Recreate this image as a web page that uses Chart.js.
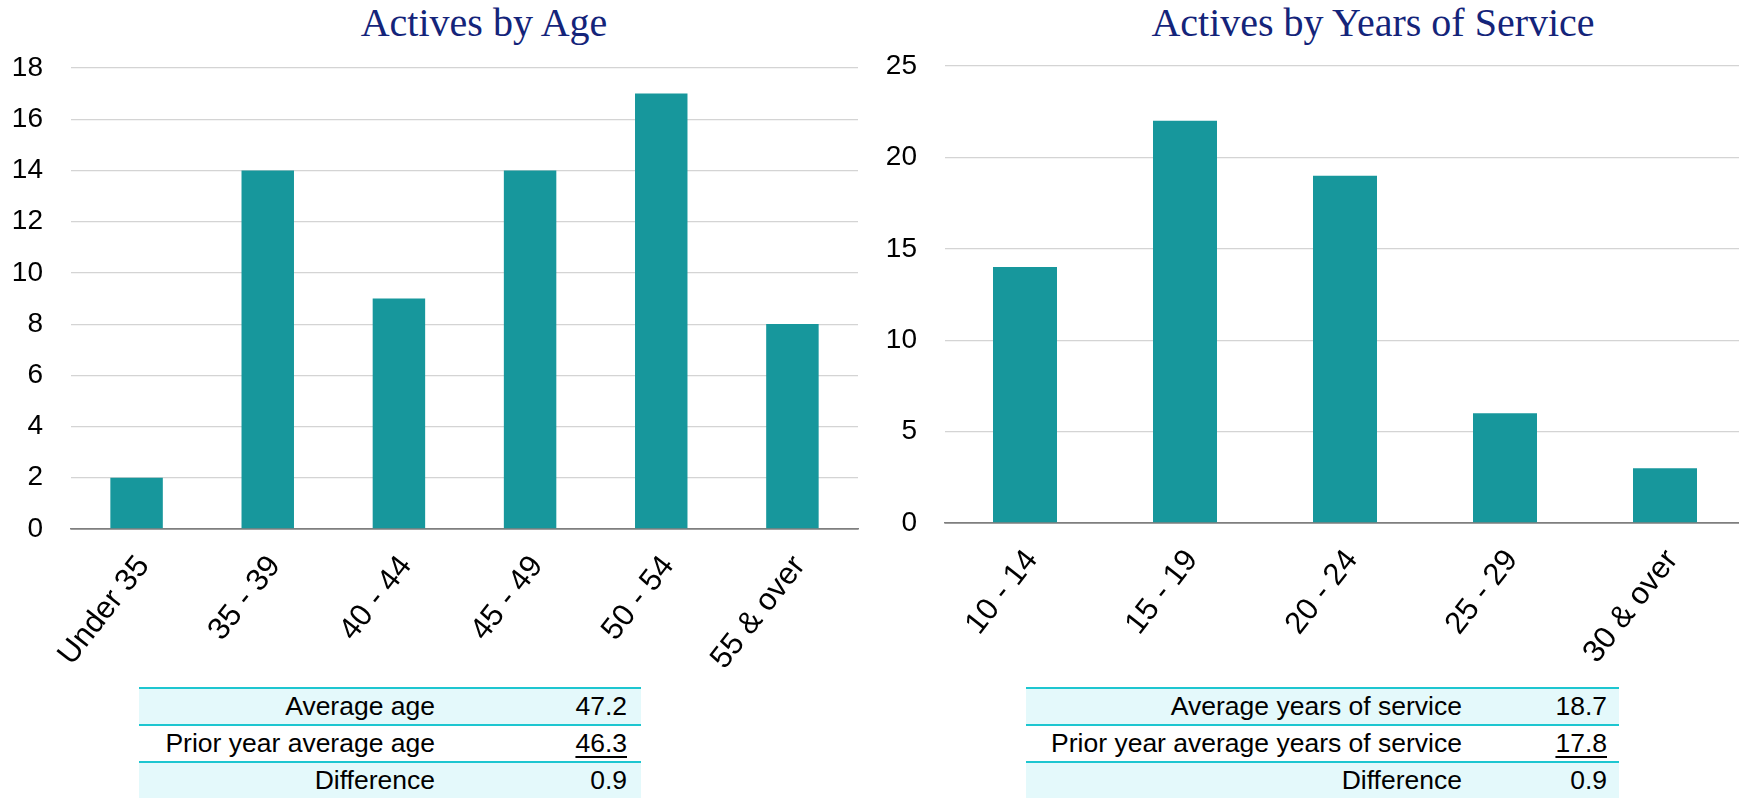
<!DOCTYPE html>
<html>
<head>
<meta charset="utf-8">
<script src="https://cdn.jsdelivr.net/npm/chart.js@4.4.1/dist/chart.umd.min.js"></script>
<style>
  html, body { margin:0; padding:0; width:1739px; height:798px; overflow:hidden; background:#ffffff; }
  .title { position:absolute; top:3px; font-family:"Liberation Serif", "Times New Roman", serif; font-size:40px; line-height:40px; color:#14247a; white-space:nowrap; transform:translateX(-50%); }
  .wrap { position:absolute; top:0; }
  table.summary { position:absolute; border-collapse:collapse; table-layout:fixed; font-family:"Liberation Sans", Arial, sans-serif; font-size:26.5px; color:#000; }
  table.summary td { height:35px; padding:0; vertical-align:middle; text-align:right; white-space:nowrap; border-top:2px solid #1dc6d0; }
  table.summary tr.shade td { background:#e4f9fb; }
  table.summary td.lab { padding-right:10px; }
  table.summary td.val { padding-right:14px; }
  .ul { text-decoration:underline; text-underline-offset:4px; text-decoration-thickness:2px; }
</style>
</head>
<body>
<div class="title" style="left:484px;">Actives by Age</div>
<div class="title" style="left:1373px;">Actives by Years of Service</div>

<div class="wrap" style="left:0px; width:870px; height:680px;"><canvas id="ageChart"></canvas></div>
<div class="wrap" style="left:870px; width:900px; height:680px;"><canvas id="serviceChart"></canvas></div>

<table class="summary" id="ageTable" style="left:139px; top:687px; width:502px;">
  <colgroup><col style="width:306px"><col style="width:196px"></colgroup>
</table>
<table class="summary" id="serviceTable" style="left:1026px; top:687px; width:593px;">
  <colgroup><col style="width:446px"><col style="width:147px"></colgroup>
</table>

<script>
// ---- data ----
const ageCategories = ['Under 35', '35 - 39', '40 - 44', '45 - 49', '50 - 54', '55 & over'];
const ageCounts = [2, 14, 9, 14, 17, 8];
const ageAxisMax = 18;
const ageAxisStep = 2;

const serviceCategories = ['10 - 14', '15 - 19', '20 - 24', '25 - 29', '30 & over'];
const serviceCounts = [14, 22, 19, 6, 3];
const serviceAxisMax = 25;
const serviceAxisStep = 5;

const ageSummaryLabels = ['Average age', 'Prior year average age', 'Difference'];
const ageSummaryValues = ['47.2', '46.3', '0.9'];
const serviceSummaryLabels = ['Average years of service', 'Prior year average years of service', 'Difference'];
const serviceSummaryValues = ['18.7', '17.8', '0.9'];

// ---- tables ----
function buildTable(id, labels, values, valPad) {
  const t = document.getElementById(id);
  labels.forEach((lab, i) => {
    const tr = document.createElement('tr');
    if (i !== 1) tr.className = 'shade';
    const td1 = document.createElement('td'); td1.className = 'lab'; td1.textContent = lab;
    const td2 = document.createElement('td'); td2.className = 'val';
    td2.style.paddingRight = valPad + 'px';
    const span = document.createElement('span'); span.textContent = values[i];
    if (i === 1) span.className = 'ul';
    td2.appendChild(span);
    tr.appendChild(td1); tr.appendChild(td2);
    t.appendChild(tr);
  });
}
buildTable('ageTable', ageSummaryLabels, ageSummaryValues, 14);
buildTable('serviceTable', serviceSummaryLabels, serviceSummaryValues, 12);

// ---- charts ----
const barColor = '#17979c';
const sansFont = '"Liberation Sans", Arial, sans-serif';

function makeChart(id, cats, vals, maxV, stepV, opts) {
  return new Chart(document.getElementById(id), {
    type: 'bar',
    data: {
      labels: cats,
      datasets: [{
        data: vals,
        backgroundColor: barColor,
        borderWidth: 0,
        categoryPercentage: 1.0,
        barPercentage: 0.4
      }]
    },
    options: {
      responsive: true,
      maintainAspectRatio: false,
      animation: false,
      layout: { padding: { top: opts.top, right: opts.right, left: 0, bottom: 0 } },
      plugins: { legend: { display: false }, tooltip: { enabled: false }, title: { display: false } },
      scales: {
        x: {
          grid: { display: false, drawTicks: false },
          border: { display: true, color: '#7f7f7f', width: 1.5 },
          ticks: {
            color: '#000000',
            font: { family: sansFont, size: 31 },
            minRotation: 52,
            maxRotation: 52,
            padding: 20,
            labelOffset: 7,
            autoSkip: false
          },
          afterFit: (s) => { s.height = opts.xHeight; }
        },
        y: {
          min: 0,
          max: maxV,
          grid: {
            drawTicks: false,
            color: (c) => (c.tick && c.tick.value === 0) ? '#7f7f7f' : '#d4d4d4',
            lineWidth: (c) => (c.tick && c.tick.value === 0) ? 1.5 : 1.2
          },
          border: { display: false },
          ticks: {
            stepSize: stepV,
            color: '#000000',
            font: { family: sansFont, size: 28 },
            padding: 28
          },
          afterFit: (s) => { s.width = opts.yWidth; }
        }
      }
    }
  });
}

makeChart('ageChart', ageCategories, ageCounts, ageAxisMax, ageAxisStep,
  { top: 68, right: 12, xHeight: 151, yWidth: 71 });
makeChart('serviceChart', serviceCategories, serviceCounts, serviceAxisMax, serviceAxisStep,
  { top: 66, right: 25, xHeight: 157, yWidth: 75 });
</script>
</body>
</html>
